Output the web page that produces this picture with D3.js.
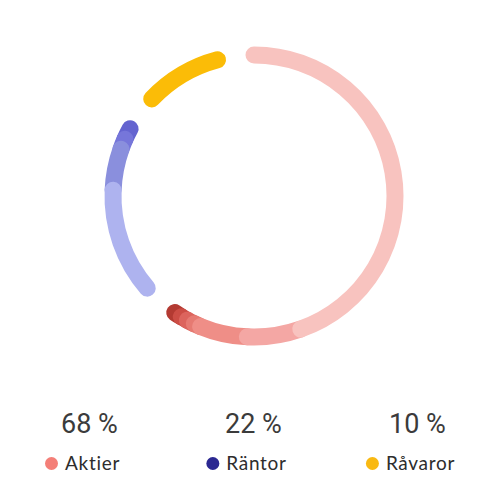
<!DOCTYPE html>
<html>
<head>
<meta charset="utf-8">
<script src="https://cdn.jsdelivr.net/npm/d3@7"></script>
<style>
  html, body { margin: 0; padding: 0; background: #fff; }
  svg { display: block; }
</style>
</head>
<body>
<div id="chart"></div>
<script>
// ---- data ----
const categories = ["Aktier", "Räntor", "Råvaror"];
const totals = [68, 22, 10];
const totalLabels = ["68 %", "22 %", "10 %"];
const aktierParts = [51, 7, 6.2, 0.9, 1.0, 0.9, 1.0];
const rantorParts = [13.7, 5.4, 1.4, 1.5];
const ravarorParts = [10];
const aktierColors = ["#f8c3bf", "#f4a7a4", "#ef8e87", "#e67a72", "#dc645d", "#cc4d45", "#b33a32"];
const rantorColors = ["#aeb3ef", "#8a8fdd", "#7676da", "#6464d0"];
const ravarorColors = ["#fbbc07"];
const legendColors = ["#f47f78", "#2b2891", "#f9b912"];

// ---- layout ----
const W = 496, H = 500;
const cx = 254, cy = 196, R = 141, SW = 17;
const gapDeg = 15;

const svg = d3.select("#chart").append("svg").attr("width", W).attr("height", H);

const pct = d3.scaleLinear().domain([0, 100]).range([0, 360 - gapDeg * 3]);
const toRad = d => (d - 90) * Math.PI / 180;

const groups = [
  { parts: aktierParts, colors: aktierColors },
  { parts: rantorParts, colors: rantorColors },
  { parts: ravarorParts, colors: ravarorColors }
];

let offset = 0;
const segs = [];
groups.forEach((g, gi) => {
  let acc = 0;
  const gs = [];
  g.parts.forEach((v, i) => {
    const a0 = offset + pct(acc);
    acc += v;
    const a1 = offset + pct(acc);
    gs.push({ a0, a1, color: g.colors[i] });
  });
  segs.push(...gs.reverse());
  offset += pct(totals[gi]) + gapDeg;
});

svg.append("g").selectAll("path").data(segs).join("path")
  .attr("d", d => {
    const p = d3.path();
    p.arc(cx, cy, R, toRad(d.a0), toRad(d.a1), false);
    return p.toString();
  })
  .attr("fill", "none")
  .attr("stroke", d => d.color)
  .attr("stroke-width", SW)
  .attr("stroke-linecap", "round");

// ---- totals & legend ----
const colX = d3.scalePoint().domain(categories).range([89.5, 417.5]);

svg.append("g").selectAll("text").data(categories).join("text")
  .attr("x", d => colX(d))
  .attr("y", 433)
  .attr("text-anchor", "middle")
  .attr("font-family", "Roboto, sans-serif")
  .attr("font-size", 27)
  .attr("fill", "#3b3b3b")
  .text((d, i) => totalLabels[i]);

const leg = svg.append("g").selectAll("g").data(categories).join("g");
leg.each(function(d, i) {
  const g = d3.select(this);
  const t = g.append("text")
    .attr("y", 470)
    .attr("font-family", "Lato, sans-serif")
    .attr("font-size", 19)
    .attr("letter-spacing", 0.7)
    .attr("fill", "#2d2d2d")
    .text(d);
  const tw = t.node().getComputedTextLength();
  const itemW = 13 + 7 + tw;
  const left = colX(d) - 7 - itemW / 2;
  g.append("circle").attr("cx", left + 6.5).attr("cy", 463.5).attr("r", 6.5).attr("fill", legendColors[i]);
  t.attr("x", left + 20);
});
</script>
</body>
</html>
